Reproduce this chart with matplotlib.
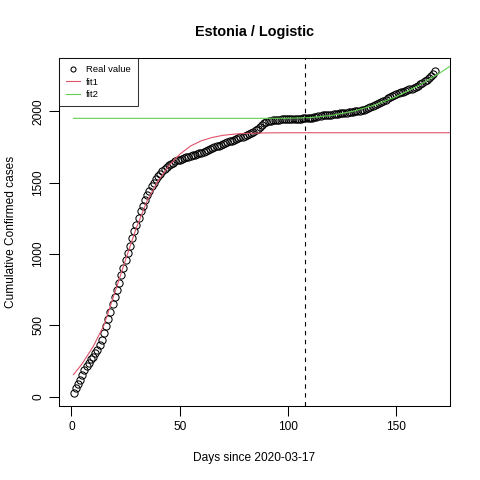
import matplotlib
matplotlib.use("Agg")
from matplotlib import pyplot as plt
import numpy as np

plt.rcParams["font.family"] = ["Liberation Sans", "DejaVu Sans"]

# observed cumulative cases, day 1..168
days = list(range(1, 169))
cases = [
    28, 60, 90, 118, 150, 185, 215, 240, 262, 280,
    305, 330, 360, 400, 445, 495, 545, 595, 650, 700,
    750, 800, 855, 905, 960, 1010, 1060, 1110, 1160, 1205,
    1250, 1300, 1340, 1380, 1415, 1445, 1475, 1500, 1525, 1545,
    1565, 1580, 1595, 1610, 1622, 1632, 1642, 1650, 1657, 1663,
    1668, 1673, 1678, 1683, 1688, 1692, 1697, 1702, 1707, 1712,
    1718, 1724, 1730, 1737, 1743, 1749, 1755, 1760, 1766, 1772,
    1778, 1784, 1790, 1796, 1801, 1806, 1812, 1818, 1824, 1830,
    1836, 1843, 1850, 1858, 1868, 1880, 1893, 1905, 1916, 1924,
    1930, 1935, 1938, 1940, 1942, 1943, 1944, 1945, 1946, 1947,
    1948, 1948, 1949, 1949, 1950, 1950, 1951, 1952, 1953, 1955,
    1957, 1960, 1963, 1966, 1969, 1972, 1974, 1976, 1977, 1978,
    1980, 1982, 1984, 1986, 1988, 1990, 1992, 1994, 1996, 1998,
    2000, 2002, 2005, 2008, 2012, 2017, 2022, 2028, 2035, 2042,
    2050, 2058, 2066, 2075, 2084, 2093, 2101, 2108, 2115, 2122,
    2128, 2134, 2140, 2146, 2151, 2155, 2160, 2166, 2172, 2180,
    2190, 2200, 2212, 2224, 2236, 2250, 2265, 2285,
]

# fitted curves
fit1_x = [1, 5, 10, 15, 20, 25, 30, 35, 40, 45, 50, 55, 60, 65, 70, 75, 80, 90, 100, 120, 150, 180]
fit1_y = [155, 232, 350, 500, 728, 960, 1185, 1375, 1512, 1620, 1700, 1758, 1795, 1818, 1833, 1841, 1846, 1850, 1851, 1851, 1851, 1851]
fit2_x = [1, 90, 100, 110, 120, 130, 140, 150, 160, 170, 180]
fit2_y = [1952, 1952, 1953, 1957, 1972, 2002, 2045, 2105, 2180, 2270, 2370]

cut_day = 108

fig = plt.figure(figsize=(4.8, 4.8), dpi=100)
ax = fig.add_axes([59 / 480, 74 / 480, 391 / 480, 348 / 480])

ax.plot(days, cases, linestyle="none", marker="o", markersize=5.2,
        markerfacecolor="none", markeredgecolor="black", markeredgewidth=0.75,
        label="Real value")
ax.plot(fit1_x, fit1_y, color="#DF536B", lw=0.8, label="fit1")
ax.plot(fit2_x, fit2_y, color="#61D04F", lw=0.8, label="fit2")
ax.axvline(cut_day, color="black", lw=0.8, linestyle=(0, (4, 4)))

ax.set_xlim(-5.7, 174.7)
ax.set_ylim(-65, 2375)
ax.set_xticks([0, 50, 100, 150])
ax.set_yticks([0, 500, 1000, 1500, 2000])
ax.tick_params(direction="out", length=7, width=0.75, labelsize=8.6)
for lab in ax.get_yticklabels():
    lab.set_rotation(90)
    lab.set_va("center")
for s in ax.spines.values():
    s.set_linewidth(0.75)

ax.set_title("Estonia / Logistic", fontsize=10.4, fontweight="bold", pad=16)
ax.set_xlabel("Days since 2020-03-17", fontsize=8.6, labelpad=14)
ax.set_ylabel("Cumulative Confirmed cases", fontsize=8.6, labelpad=11)

leg = ax.legend(loc="upper left", fontsize=6.8, frameon=True, fancybox=False,
                borderaxespad=0, handlelength=1.5, borderpad=0.75,
                labelspacing=0.38, handletextpad=0.6, markerscale=0.7)
leg.get_frame().set_edgecolor("black")
leg.get_frame().set_linewidth(0.75)

fig.savefig("out.png", dpi=100)
